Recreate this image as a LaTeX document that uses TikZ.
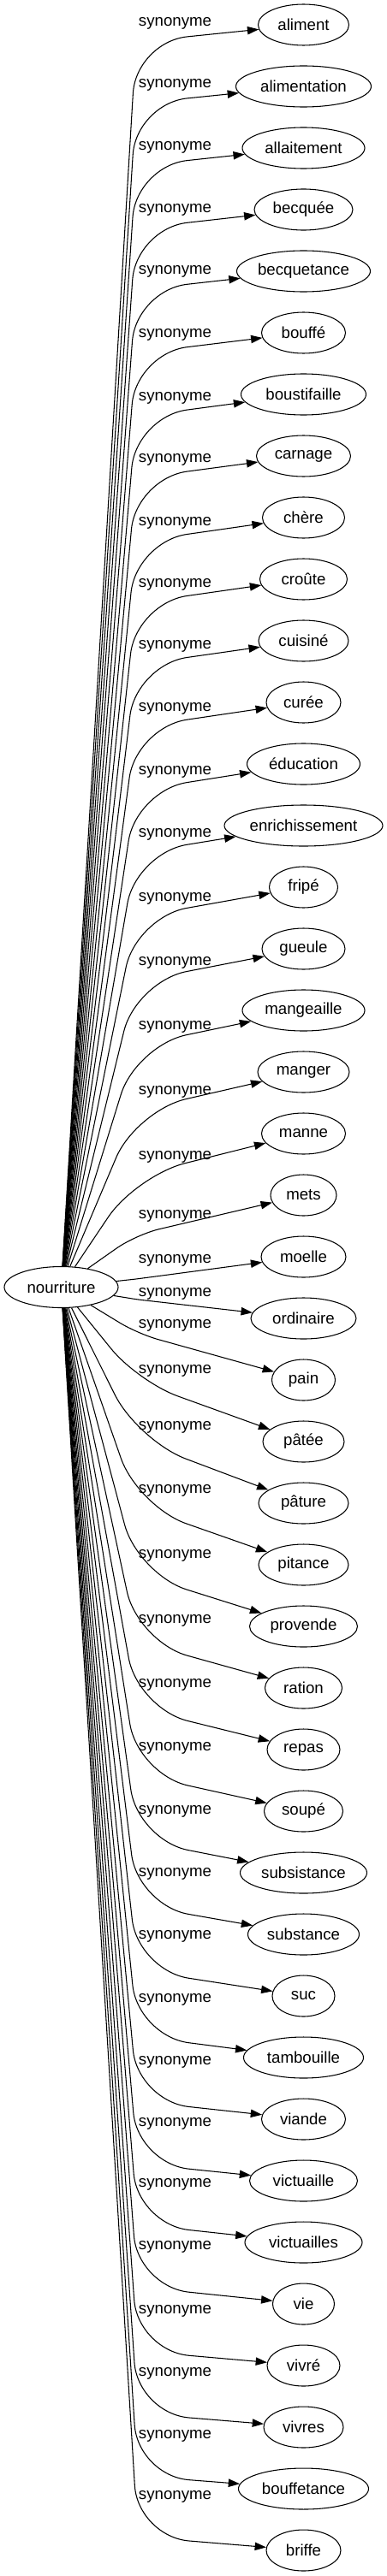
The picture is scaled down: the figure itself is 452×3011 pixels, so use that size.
\documentclass[tikz,border=0pt]{standalone}
\usepackage{fontspec}
\setmainfont{Liberation Sans}
\usetikzlibrary{arrows.meta,shapes.geometric}
\tikzset{
    word/.style = {
        draw,
        shape=ellipse,
        minimum height=36pt,
        inner sep=0pt,
        line width=0.8pt,
        font=\fontsize{14}{16}\selectfont
    },
    relation/.style = {
        inner sep=0pt,
        font=\fontsize{14}{16}\selectfont
    },
    >={Triangle[length=10pt,width=7pt]},
}
\begin{document}
\begin{tikzpicture}[x=0.75pt, y=-0.75pt]
    \useasboundingbox (0,0) rectangle (452,3011);
    \node[word, minimum width=99.75pt] (nourriture) at (71.5,1504.5) {nourriture};

    \foreach \name/\word/\w/\ly [count=\i from 0] in {
        aliment/aliment/106/27, alimentation/alimentation/158/99,
        allaitement/allaitement/143/172, becquee/becquée/115/245,
        becquetance/becquetance/156/317, bouffe/bouffé/98/391,
        boustifaille/boustifaille/146/465, carnage/carnage/110/537,
        chere/chère/96/611, croute/croûte/102/683,
        cuisine/cuisiné/105/755, curee/curée/87/828,
        education/éducation/132/902, enrichissement/enrichissement/185/975,
        fripe/fripé/80/1050, gueule/gueule/97/1125,
        mangeaille/mangeaille/143/1200, manger/manger/107/1276,
        manne/manne/98/1352, mets/mets/77/1421,
        moelle/moelle/99/1473, ordinaire/ordinaire/123/1512,
        pain/pain/74/1549, patee/pâtée/95/1602,
        pature/pâture/105/1668, pitance/pitance/105/1742,
        provende/provende/126/1818, ration/ration/90/1894,
        repas/repas/85/1969, soupe/soupé/92/2043,
        subsistance/subsistance/148/2117, substance/substance/130/2190,
        suc/suc/73/2263, tambouille/tambouille/140/2337,
        viande/viande/98/2410, victuaille/victuaille/126/2482,
        victuailles/victuailles/137/2553, vie/vie/72/2626,
        vivre/vivré/85/2701, vivres/vivres/93/2774,
        bouffetance/bouffetance/152/2847, briffe/briffe/87/2918}
    {
        \pgfmathsetmacro\ny{29+72*\i}
        \pgfmathsetmacro\kx{\i<21 ? 159 : 161}
        \pgfmathsetmacro\ky{\i<21 ? \ly+22 : \ly+min(47,10+3*(\i-22))}
        \pgfmathsetmacro\rad{0.75*min(60,0.45*abs(\ky-1505))}
        \node[word, minimum width=\w*0.75pt] (\name) at (354.5,\ny) {\word};
        \node[relation] (syn\name) at (204.5,\ly) {synonyme};
        \coordinate (bend\name) at (\kx,\ky);
        \path[draw, ->, line width=0.8pt, rounded corners=\rad pt] (nourriture) -- (bend\name) -- (\name);
    }
\end{tikzpicture}
\end{document}
